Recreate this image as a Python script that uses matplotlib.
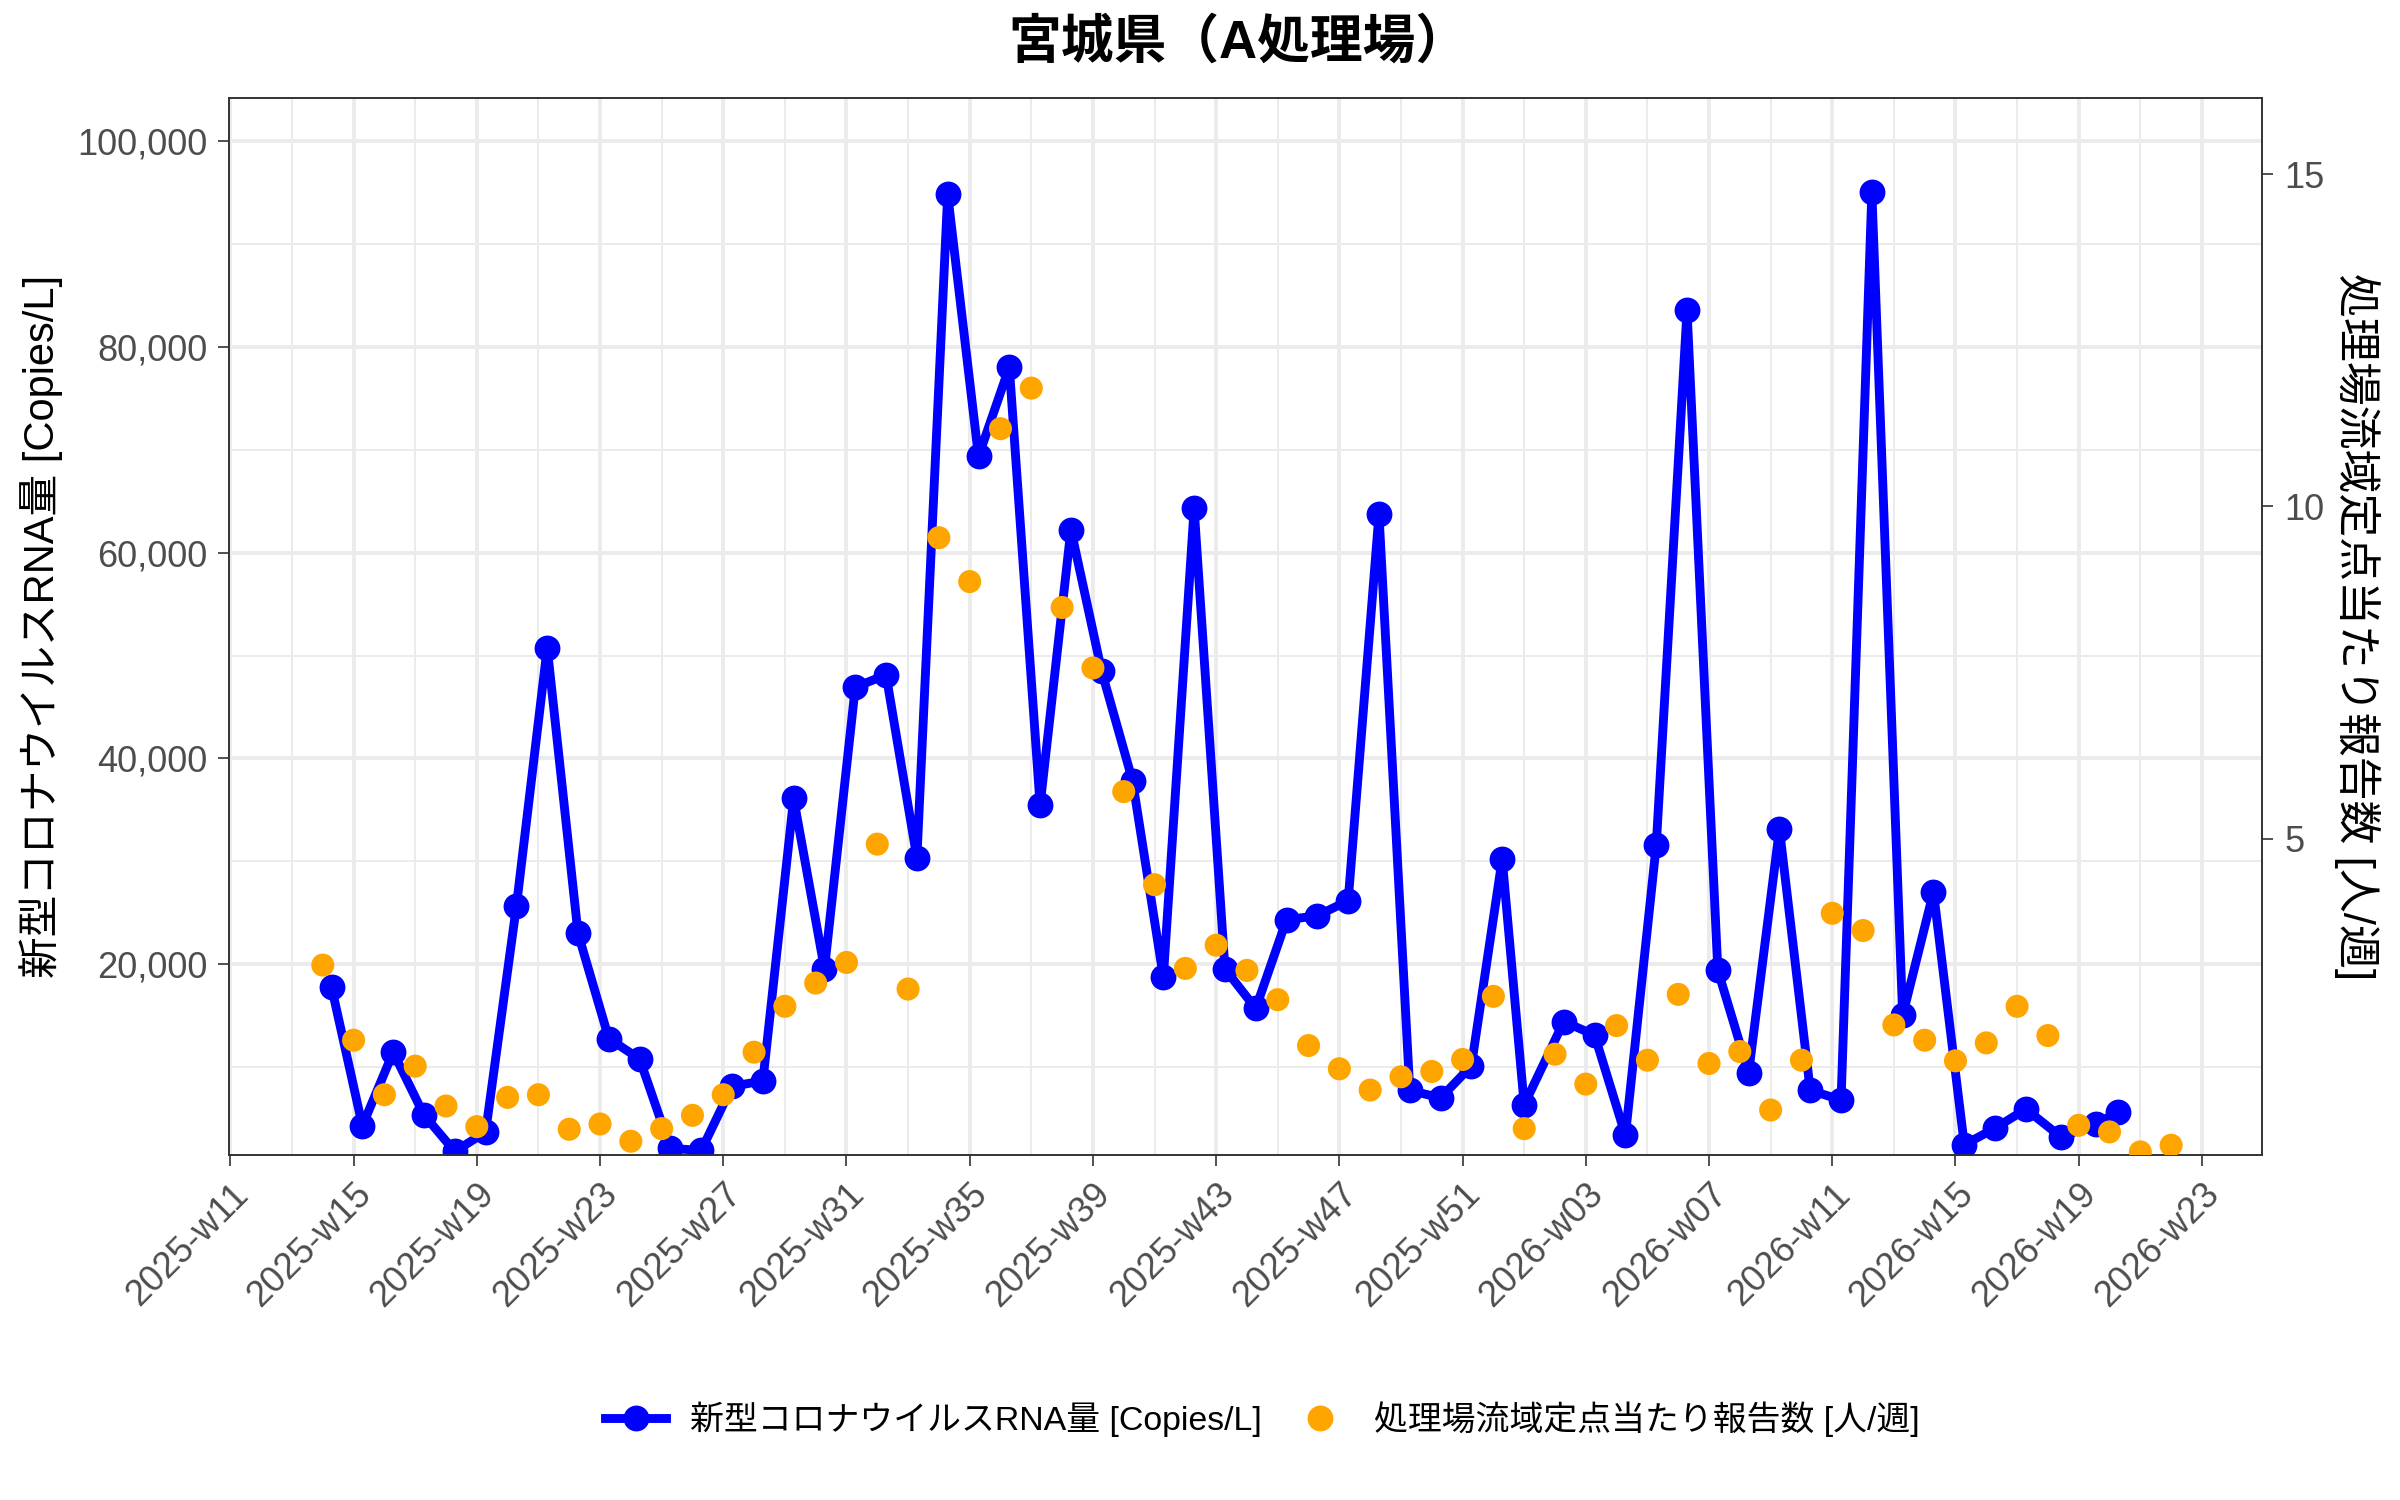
import datetime as dt
import matplotlib
matplotlib.use("Agg")
import matplotlib.pyplot as plt
from matplotlib.ticker import FixedLocator, FuncFormatter
from matplotlib.lines import Line2D

plt.rcParams['font.family'] = ['Liberation Sans', 'Noto Sans CJK JP']

# ---------------- data ----------------
title = "宮城県（A処理場）"
rna_label = "新型コロナウイルスRNA量 [Copies/L]"
rep_label = "処理場流域定点当たり報告数 [人/週]"

x_tick_labels = ["2025-w11", "2025-w15", "2025-w19", "2025-w23", "2025-w27",
                 "2025-w31", "2025-w35", "2025-w39", "2025-w43", "2025-w47",
                 "2025-w51", "2026-w03", "2026-w07", "2026-w11", "2026-w15",
                 "2026-w19", "2026-w23"]

blue_weeks = ([f"2025-w{w:02d}" for w in range(14, 53)] +
              [f"2026-w{w:02d}" for w in range(1, 21)])
# ISO weekday of the sampling day
blue_days = [3] * 39 + [1] + [3] * 16 + [4, 5, 3]
blue_values = [17750, 4290, 11450, 5350, 1800, 3690, 25640, 50780, 22990,
               12780, 10790, 2100, 1900, 8130, 8660, 36120, 19540, 46940,
               48130, 30350, 94830, 69360, 78050, 35460, 62260, 48460, 37850,
               18750, 64310, 19540, 15700, 24320, 24720, 26180, 63720, 7740,
               7010, 10120, 30220,
               6340, 14430, 13110, 3360, 31550, 83550, 19410, 9460, 33140,
               7740, 6810, 95030, 15030, 27040, 2450, 4070, 5920, 3200, 4490,
               5630]

orange_weeks = ([f"2025-w{w:02d}" for w in range(14, 53)] +
                [f"2026-w{w:02d}" for w in range(1, 23)])
orange_values = [3.10, 1.97, 1.15, 1.58, 0.98, 0.67, 1.11, 1.15, 0.63, 0.71,
                 0.45, 0.64, 0.84, 1.15, 1.79, 2.48, 2.83, 3.14, 4.92, 2.74,
                 9.53, 8.87, 11.17, 11.78, 8.48, 7.57, 5.71, 4.31, 3.05, 3.40,
                 3.02, 2.58, 1.89, 1.54, 1.22, 1.42, 1.50, 1.68, 2.63,
                 0.64, 1.76, 1.31, 2.19, 1.67, 2.66, 1.62, 1.80, 0.92, 1.67,
                 3.88, 3.62, 2.20, 1.97, 1.66, 1.93, 2.48, 2.04, 0.69, 0.59,
                 0.29, 0.39]

y_left_ticks = [20000, 40000, 60000, 80000, 100000]
y_left_minor = [10000, 30000, 50000, 70000, 90000]
y_right_ticks = [5, 10, 15]

BASE = dt.date.fromisocalendar(2025, 11, 1)


def week_pos(label, day=1):
    y, w = label.split("-w")
    d = dt.date.fromisocalendar(int(y), int(w), day)
    return (d - BASE).days / 7.0


bx = [week_pos(w, d) for w, d in zip(blue_weeks, blue_days)]
ox = [week_pos(w) for w in orange_weeks]
xt = [week_pos(w) for w in x_tick_labels]
xminor = [(a + b) / 2 for a, b in zip(xt[:-1], xt[1:])]

BLUE = "#0000FF"
ORANGE = "#FFA500"
GRID = "#EBEBEB"
DARK = "#333333"
TXT = "#4D4D4D"

fig = plt.figure(figsize=(12, 7.5), dpi=200)
ax = fig.add_axes([0.0956, 0.2303, 0.8469, 0.7046])
ax2 = ax.twinx()

ax.set_xlim(-0.03, 65.95)
ax.set_ylim(1500, 104240)
ax2.set_ylim(0.25, 16.15)

ax.set_xticks(xt)
ax.set_xticklabels(x_tick_labels, rotation=45, ha='right', va='top',
                   rotation_mode='anchor')
ax.xaxis.set_minor_locator(FixedLocator(xminor))
ax.set_yticks(y_left_ticks)
ax.yaxis.set_major_formatter(FuncFormatter(lambda v, p: f"{int(v):,}"))
ax.yaxis.set_minor_locator(FixedLocator(y_left_minor))
ax2.set_yticks(y_right_ticks)

ax.set_axisbelow(True)
ax.grid(which='major', color=GRID, lw=1.4)
ax.grid(which='minor', color=GRID, lw=0.7)

for a in (ax, ax2):
    for s in a.spines.values():
        s.set_color(DARK)
        s.set_linewidth(0.6)
    a.tick_params(which='major', length=4, width=0.6, color=DARK,
                  labelsize=13, labelcolor=TXT, pad=4)
    a.tick_params(which='minor', length=0)

ax.plot(bx, blue_values, color=BLUE, lw=3.2, marker='o', ms=8.3,
        solid_joinstyle='round', zorder=3)
ax2.scatter(ox, orange_values, s=8.3 ** 2, color=ORANGE, edgecolors='none',
            zorder=3)

ax.set_ylabel(rna_label, fontsize=15, va='center')
ax.yaxis.set_label_coords(-0.0927, 0.5)
ax2.set_ylabel(rep_label, fontsize=15.8, rotation=-90, va='center')
ax2.yaxis.set_label_coords(1.0467, 0.5)

fig.text(0.516, 0.971, title, ha='center', va='center', fontsize=19,
         weight='bold')

handles = [Line2D([0], [0], color=BLUE, lw=3.2, marker='o', ms=8.3),
           Line2D([0], [0], ls='none', marker='o', ms=8.3, color=ORANGE)]
fig.legend(handles, [rna_label, rep_label], loc='center',
           bbox_to_anchor=(0.526, 0.054), ncol=2, frameon=False,
           fontsize=12.2, handlelength=1.8, handletextpad=0.7,
           columnspacing=0.8)

fig.savefig("out.png", dpi=200)
